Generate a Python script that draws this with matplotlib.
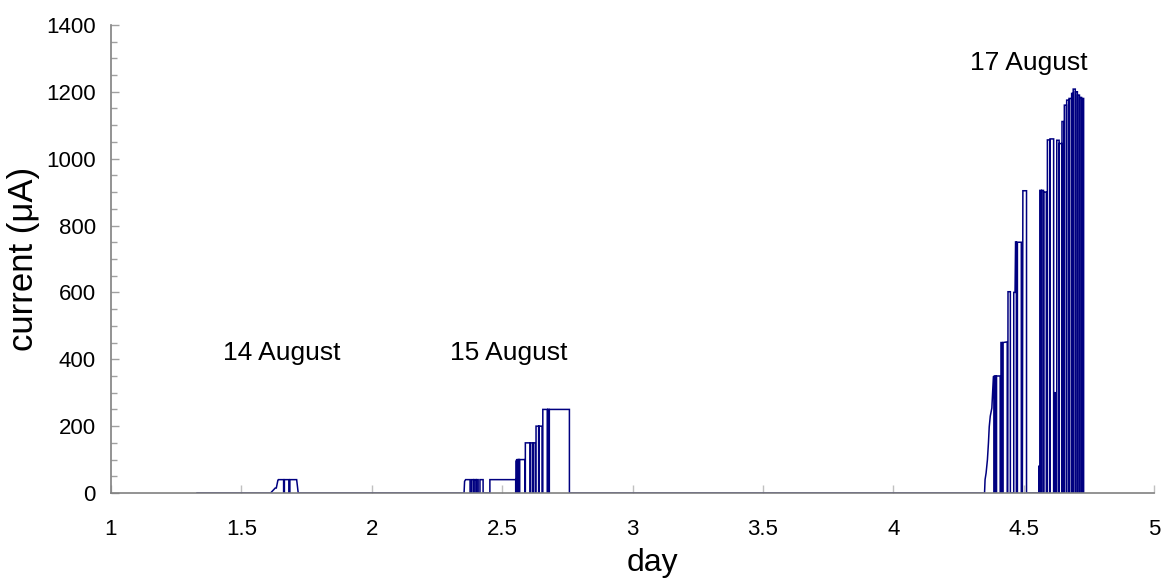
import matplotlib
matplotlib.use("Agg")
import matplotlib.pyplot as plt
from matplotlib.ticker import MultipleLocator

plt.rcParams['font.family'] = ['Liberation Sans', 'DejaVu Sans']

# Beam current record, 14 August (day 1.6x)
day_aug14 = [1.330, 1.612, 1.630, 1.634, 1.640, 1.642, 1.662, 1.662, 1.665, 1.665,
             1.682, 1.682, 1.686, 1.686, 1.712, 1.718]
cur_aug14 = [0, 0, 15, 15, 38, 40, 40, 0, 0, 40,
             40, 0, 0, 40, 40, 0]

# 15 August (day 2.3x - 2.7x)
day_aug15 = [1.718, 2.354, 2.356, 2.360, 2.377, 2.377, 2.383, 2.383, 2.390, 2.390,
             2.392, 2.392, 2.400, 2.400, 2.402, 2.402, 2.408, 2.408, 2.415, 2.415,
             2.427, 2.427, 2.453, 2.453, 2.552, 2.552, 2.553, 2.553, 2.556, 2.556,
             2.558, 2.558, 2.561, 2.561, 2.563, 2.563, 2.566, 2.566, 2.567, 2.567,
             2.587, 2.587, 2.589, 2.589, 2.607, 2.607, 2.609, 2.609, 2.617, 2.617,
             2.619, 2.619, 2.627, 2.627, 2.630, 2.630, 2.640, 2.640, 2.642, 2.642,
             2.653, 2.653, 2.656, 2.656, 2.673, 2.673, 2.675, 2.675, 2.679, 2.679,
             2.681, 2.681, 2.758, 2.758]
cur_aug15 = [0, 0, 35, 40, 40, 0, 0, 40, 40, 0,
             0, 40, 40, 0, 0, 40, 40, 0, 0, 40,
             40, 0, 0, 40, 40, 0, 0, 95, 100, 0,
             0, 100, 100, 0, 0, 100, 100, 0, 0, 100,
             100, 0, 0, 150, 150, 0, 0, 150, 150, 0,
             0, 150, 150, 0, 0, 200, 200, 0, 0, 200,
             200, 0, 0, 250, 250, 0, 0, 250, 250, 0,
             0, 250, 250, 0]

# 17 August, first ramp-up (day 4.35 - 4.51)
day_aug17a = [2.758, 4.350, 4.352, 4.356, 4.361, 4.365, 4.368, 4.372, 4.378, 4.381,
              4.384, 4.386, 4.386, 4.389, 4.389, 4.393, 4.393, 4.396, 4.396, 4.410,
              4.410, 4.413, 4.413, 4.418, 4.418, 4.421, 4.421, 4.437, 4.437, 4.439,
              4.440, 4.449, 4.449, 4.462, 4.462, 4.467, 4.469, 4.472, 4.472, 4.476,
              4.476, 4.491, 4.491, 4.495, 4.497, 4.502, 4.504, 4.511, 4.511]
cur_aug17a = [0, 0, 40, 60, 99, 150, 198, 230, 254, 300,
              348, 350, 0, 0, 350, 350, 0, 0, 350, 350,
              0, 0, 450, 450, 0, 0, 450, 452, 0, 0,
              602, 602, 0, 0, 600, 600, 751, 751, 0, 0,
              750, 750, 0, 0, 904, 904, 904, 904, 0]

# 17 August, second run (day 4.56 - 4.73): pulse start, end and level
pulse_start = [4.558, 4.562, 4.569, 4.577, 4.591, 4.601, 4.620, 4.627, 4.636,
               4.647, 4.656, 4.665, 4.674, 4.684, 4.690, 4.699, 4.707, 4.715, 4.723]
pulse_end = [4.560, 4.568, 4.576, 4.587, 4.600, 4.615, 4.621, 4.636, 4.646,
             4.655, 4.664, 4.673, 4.683, 4.690, 4.698, 4.706, 4.714, 4.722, 4.730]
pulse_level = [80, 905, 905, 900, 1056, 1059, 300, 1055, 1045,
               1111, 1160, 1175, 1180, 1195, 1208, 1200, 1190, 1183, 1180]

day_labels = ["14 August", "15 August", "17 August"]
label_pos_day = [1.653, 2.527, 4.519]
label_pos_cur = [419, 419, 1286]

day = day_aug14 + day_aug15 + day_aug17a
current = cur_aug14 + cur_aug15 + cur_aug17a
for s, e, lvl in zip(pulse_start, pulse_end, pulse_level):
    day += [s, s, e, e]
    current += [0, lvl, lvl, 0]

fig = plt.figure(figsize=(11.61, 5.79), dpi=100)
ax = fig.add_axes([0.0956, 0.1485, 0.8984, 0.8085])

ax.plot(day, current, color='#000080', linewidth=1.1, solid_joinstyle='miter')

ax.set_xlim(1, 5)
ax.set_ylim(0, 1400)
ax.yaxis.set_major_locator(MultipleLocator(200))
ax.yaxis.set_minor_locator(MultipleLocator(50))
ax.set_xticks([1, 1.5, 2, 2.5, 3, 3.5, 4, 4.5, 5])
ax.set_xticklabels(["1", "1.5", "2", "2.5", "3", "3.5", "4", "4.5", "5"])

for s in ('top', 'right'):
    ax.spines[s].set_visible(False)
for s in ('left', 'bottom'):
    ax.spines[s].set_color('#808080')
    ax.spines[s].set_linewidth(1.2)

ax.tick_params(axis='x', direction='in', length=6, width=1, color='#c0c0c0',
               labelsize=16, pad=19)
ax.tick_params(axis='y', which='major', direction='in', length=6, width=1,
               color='#a0a0a0', labelsize=16, pad=11)
ax.tick_params(axis='y', which='minor', direction='in', length=4, width=1,
               color='#a0a0a0')

ax.set_xlabel('day', fontsize=23)
ax.xaxis.set_label_coords(0.519, -0.118, transform=ax.transAxes)
ax.set_ylabel('current (\u03bcA)', fontsize=25)
ax.yaxis.set_label_coords(-0.068, 0.5, transform=ax.transAxes)

for txt, xd, yc in zip(day_labels, label_pos_day, label_pos_cur):
    ax.text(xd, yc, txt, fontsize=19, ha='center', va='center')

fig.savefig('out.png', dpi=100)
